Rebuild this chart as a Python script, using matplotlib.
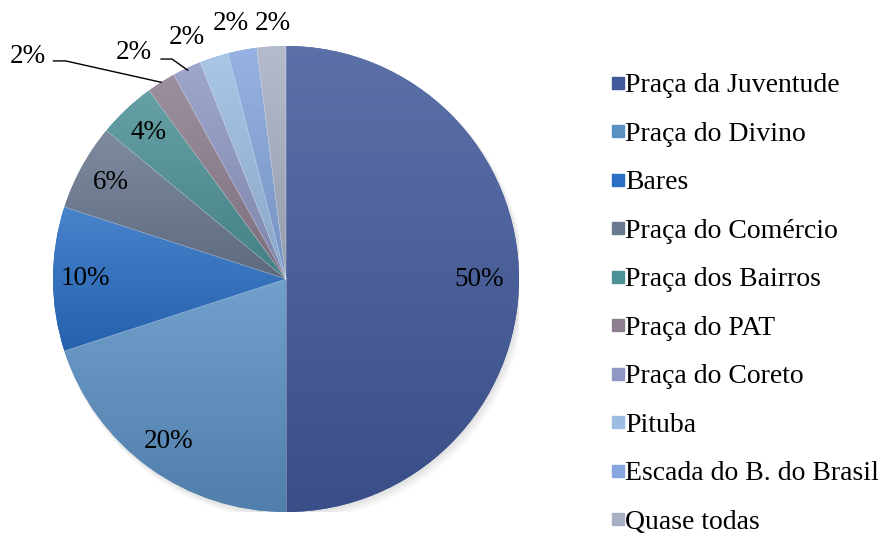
import numpy as np
import matplotlib.pyplot as plt
from matplotlib.colors import to_rgb
from matplotlib.lines import Line2D
from matplotlib.patches import Circle

# --- Datos ---
locais = ['Praça da Juventude', 'Praça do Divino', 'Bares', 'Praça do Comércio',
          'Praça dos Bairros', 'Praça do PAT', 'Praça do Coreto', 'Pituba',
          'Escada do B. do Brasil', 'Quase todas']
percentuais = [50, 20, 10, 6, 4, 2, 2, 2, 2, 2]
cores = ['#41599a', '#5b90c3', '#2a6fc3', '#6a7890', '#4c9196',
         '#8c7e8e', '#8f98c4', '#9cbde2', '#86a6dd', '#a8b1c4']

plt.rcParams['font.family'] = ['Liberation Serif', 'DejaVu Serif']

W, H = 882, 534
fig = plt.figure(figsize=(W / 100, H / 100), dpi=100)
cx, cy, r = 286, 279, 233
ax = fig.add_axes([(cx - r) / W, (H - cy - r) / H, 2 * r / W, 2 * r / H])
ax.set_axis_off()

# sombra suave
for k, a in zip(range(6), [0.05, 0.05, 0.05, 0.05, 0.04, 0.03]):
    ax.add_patch(Circle((0.004 * k, -0.006 * k), 1.0 + 0.002 * k, color='#808080',
                        alpha=a, lw=0, zorder=0))

wedges, _ = ax.pie(percentuais, colors=cores, startangle=90, counterclock=False,
                   radius=1, wedgeprops=dict(linewidth=0))

# gradiente vertical em cada fatia (claro em cima, escuro embaixo)
for w, c in zip(wedges, cores):
    w.set_zorder(1)
    v = w.get_path().vertices
    x0, x1, y0, y1 = v[:, 0].min(), v[:, 0].max(), v[:, 1].min(), v[:, 1].max()
    base = np.array(to_rgb(c))
    topo = base + (1 - base) * 0.14
    fundo = base * 0.88
    t = np.linspace(0, 1, 128)[:, None]
    grad = fundo * (1 - t) + topo * t
    img = ax.imshow(grad[:, None, :], extent=[x0, x1, y0, y1], origin='lower',
                    aspect='auto', zorder=2, interpolation='bilinear')
    img.set_clip_path(w)
    ax.plot([0, np.cos(np.deg2rad(w.theta1))], [0, np.sin(np.deg2rad(w.theta1))],
            color='white', lw=0.4, alpha=0.5, zorder=3)

ax.set_xlim(-1, 1)
ax.set_ylim(-1, 1)

# posições dos rótulos das fatias pequenas do topo
pos_topo = {7: (-0.425, 1.035), 8: (-0.236, 1.095), 9: (-0.056, 1.095)}

fs = 19.5
total = sum(percentuais)
for i, (w, p) in enumerate(zip(wedges, percentuais)):
    ang = np.deg2rad((w.theta1 + w.theta2) / 2)
    txt = f'{p / total * 100:.0f}%'
    if p >= 4:
        d = 0.83 if p == 50 else 0.86
        ax.text(d * np.cos(ang), d * np.sin(ang), txt, ha='center', va='center',
                fontsize=fs, zorder=5)
    elif i == 5:
        ex, ey = np.cos(ang), np.sin(ang)
        ax.plot([-0.998, -0.946, ex], [0.936, 0.936, ey], color='black', lw=1, zorder=5,
                clip_on=False)
        ax.text(-1.03, 0.955, txt, ha='right', va='center', fontsize=fs)
    elif i == 6:
        ex, ey = np.cos(ang), np.sin(ang)
        ax.plot([-0.536, -0.489, ex * 0.99], [0.944, 0.944, ey * 0.99], color='black',
                lw=1, zorder=5, clip_on=False)
        ax.text(-0.575, 0.97, txt, ha='right', va='center', fontsize=fs)
    else:
        tx, ty = pos_topo[i]
        ax.text(tx, ty, txt, ha='center', va='center', fontsize=fs)

handles = [Line2D([], [], marker='s', color=c, linestyle='none', markersize=8.5)
           for c in cores]
fig.legend(handles, locais, loc='center left',
           bbox_to_anchor=(597 / W, 0.5 - 37 / H),
           frameon=False, fontsize=20, handlelength=0.5, handletextpad=0.0,
           labelspacing=0.83, borderpad=0)

fig.savefig('out.png', dpi=100)
